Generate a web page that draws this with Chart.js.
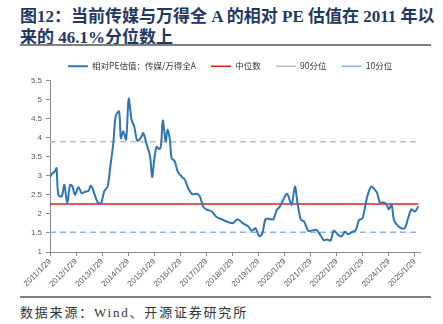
<!DOCTYPE html>
<html>
<head>
<meta charset="utf-8">
<script src="https://cdn.jsdelivr.net/npm/chart.js@4.4.1/dist/chart.umd.min.js"></script>
<style>
  body { margin: 0; width: 443px; height: 324px; background: #fff; position: relative; overflow: hidden; }
  #title { position: absolute; left: 20px; top: 6px; width: 425px; font-family: "Liberation Serif", "Noto Sans CJK SC", serif;
           font-size: 17px; line-height: 21px; font-weight: bold; color: #1f3864; white-space: nowrap; }
  .rule { position: absolute; left: 20px; width: 411px; height: 2px; background: #7f7f7f; }
  #source { position: absolute; left: 20px; top: 302px; font-family: "Liberation Serif", "Noto Sans CJK SC", serif;
            font-size: 13px; color: #333; letter-spacing: 1.8px; white-space: nowrap; }
  #wrap { position: absolute; left: 0; top: 47px; width: 443px; height: 248px; overflow: hidden; }
</style>
</head>
<body>
<div id="title">图12：当前传媒与万得全 A 的相对 PE 估值在 2011 年以<br>来的 46.1%分位数上</div>
<div class="rule" style="top:44px"></div>
<div id="wrap"><canvas id="myChart" width="460" height="248"></canvas></div>
<div class="rule" style="top:296px"></div>
<div id="source">数据来源：Wind、开源证券研究所</div>

<script>
// x positions are years since 2011/1/29
const tickLabels = ['2011/1/29', '2012/1/29', '2013/1/29', '2014/1/29', '2015/1/29', '2016/1/29', '2017/1/29', '2018/1/29',
  '2019/1/29', '2020/1/29', '2021/1/29', '2022/1/29', '2023/1/29', '2024/1/29', '2025/1/29'];

const years = [0, 0.08, 0.19, 0.25, 0.32, 0.45, 0.55, 0.66, 0.77, 0.86,
  0.96, 1.09, 1.22, 1.34, 1.47, 1.57, 1.70, 1.83, 1.96, 2.08,
  2.21, 2.30, 2.43, 2.52, 2.65, 2.72, 2.81, 2.92, 3.02, 3.13,
  3.23, 3.35, 3.49, 3.58, 3.71, 3.84, 3.92, 4.00, 4.09, 4.19,
  4.26, 4.33, 4.44, 4.51, 4.60, 4.67, 4.79, 4.90, 5.05, 5.18,
  5.30, 5.46, 5.63, 5.75, 5.88, 6.01, 6.20, 6.39, 6.59, 6.71,
  6.90, 7.03, 7.20, 7.41, 7.61, 7.74, 7.89, 8.02, 8.14, 8.27,
  8.40, 8.57, 8.70, 8.82, 8.95, 9.10, 9.27, 9.40, 9.50, 9.63,
  9.75, 9.91, 10.10, 10.23, 10.36, 10.51, 10.64, 10.77, 10.89, 11.06,
  11.19, 11.32, 11.44, 11.61, 11.74, 11.86, 11.99, 12.12, 12.21, 12.34,
  12.47, 12.55, 12.66, 12.81, 12.92, 13.00, 13.11, 13.20, 13.32, 13.49,
  13.62, 13.74, 13.87, 14.00, 14.14];

const relPE = [2.97, 3.05, 3.12, 3.2, 2.5, 2.46, 2.76, 2.28, 2.76, 2.72,
  2.5, 2.7, 2.54, 2.58, 2.6, 2.74, 2.54, 2.3, 2.28, 2.59,
  2.72, 3.16, 3.86, 4.56, 4.69, 3.99, 4.17, 3.95, 5.02, 4.47,
  4.3, 3.92, 4.0, 4.12, 3.82, 3.51, 2.97, 3.42, 3.76, 3.7,
  3.8, 4.45, 3.9, 4.21, 3.95, 3.46, 3.38, 3.11, 2.98, 2.89,
  2.68, 2.52, 2.53, 2.46, 2.19, 2.11, 2.07, 1.92, 1.86, 1.82,
  1.77, 1.76, 1.86, 1.75, 1.67, 1.56, 1.62, 1.42, 1.47, 1.86,
  1.87, 1.86, 2.1, 2.19, 2.37, 2.53, 2.24, 2.72, 2.28, 1.84,
  1.8, 1.56, 1.57, 1.58, 1.46, 1.31, 1.33, 1.3, 1.56, 1.45,
  1.41, 1.53, 1.47, 1.53, 1.58, 1.84, 1.88, 2.28, 2.54, 2.72,
  2.63, 2.56, 2.3, 2.3, 2.24, 2.12, 2.24, 1.84, 1.71, 1.62,
  1.63, 1.88, 2.12, 2.06, 2.2];

const median = 2.26;
const pct90 = 3.89;
const pct10 = 1.52;

const xStart = years[0];
const xEnd = years[years.length - 1];

function flatLine(v) {
  return [{x: xStart, y: v}, {x: xEnd, y: v}];
}

const axisColor = '#8c8c8c';
const tickFont = {family: 'Liberation Sans, Arial', size: 8};

const ctx = document.getElementById('myChart');
const myChart = new Chart(ctx, {
  type: 'line',
  data: {
    datasets: [{
      label: '相对PE估值：传媒/万得全A',
      data: years.map((x, i) => ({x: x, y: relPE[i]})),
      borderColor: '#2e75b6',
      borderWidth: 2,
      pointRadius: 0,
      pointStyle: 'line',
      tension: 0.3
    }, {
      label: '中位数',
      data: flatLine(median),
      borderColor: '#e01e1e',
      borderWidth: 1.5,
      pointRadius: 0,
      pointStyle: 'line'
    }, {
      label: '90分位',
      data: flatLine(pct90),
      borderColor: '#bfbfbf',
      borderWidth: 1.5,
      borderDash: [6, 4],
      pointRadius: 0,
      pointStyle: 'line'
    }, {
      label: '10分位',
      data: flatLine(pct10),
      borderColor: '#8db4e2',
      borderWidth: 1.5,
      borderDash: [6, 4],
      pointRadius: 0,
      pointStyle: 'line'
    }]
  },
  options: {
    responsive: false,
    animation: false,
    layout: {padding: 0},
    plugins: {
      tooltip: {enabled: false},
      legend: {
        position: 'top',
        labels: {
          usePointStyle: true,
          pointStyleWidth: 20,
          padding: 15,
          color: '#333',
          font: {family: 'Noto Sans CJK SC', size: 8.5}
        }
      }
    },
    scales: {
      x: {
        type: 'linear',
        min: 0,
        max: 14.2,
        afterBuildTicks: (scale) => { scale.ticks = tickLabels.map((_, i) => ({value: i})); },
        afterFit: (scale) => { scale.height = 43; },
        grid: {display: true, drawOnChartArea: false, drawTicks: true, tickLength: 4, color: axisColor},
        border: {display: true, color: axisColor},
        ticks: {
          autoSkip: false,
          maxRotation: 45,
          minRotation: 45,
          padding: 1,
          color: '#595959',
          font: tickFont,
          callback: (v) => tickLabels[v] ?? ''
        }
      },
      y: {
        min: 1,
        max: 5.5,
        afterFit: (scale) => { scale.width = 50; },
        grid: {display: true, drawOnChartArea: false, drawTicks: true, tickLength: 4, color: axisColor},
        border: {display: true, color: axisColor},
        ticks: {
          stepSize: 0.5,
          padding: 4,
          color: '#595959',
          font: tickFont,
          callback: (v) => String(v)
        }
      },
      // empty right-hand axis: keeps the plot off the right edge
      pad: {
        type: 'linear',
        position: 'right',
        afterFit: (scale) => { scale.width = 40; },
        grid: {display: false},
        border: {display: false},
        ticks: {display: false}
      }
    }
  }
});
</script>
</body>
</html>
